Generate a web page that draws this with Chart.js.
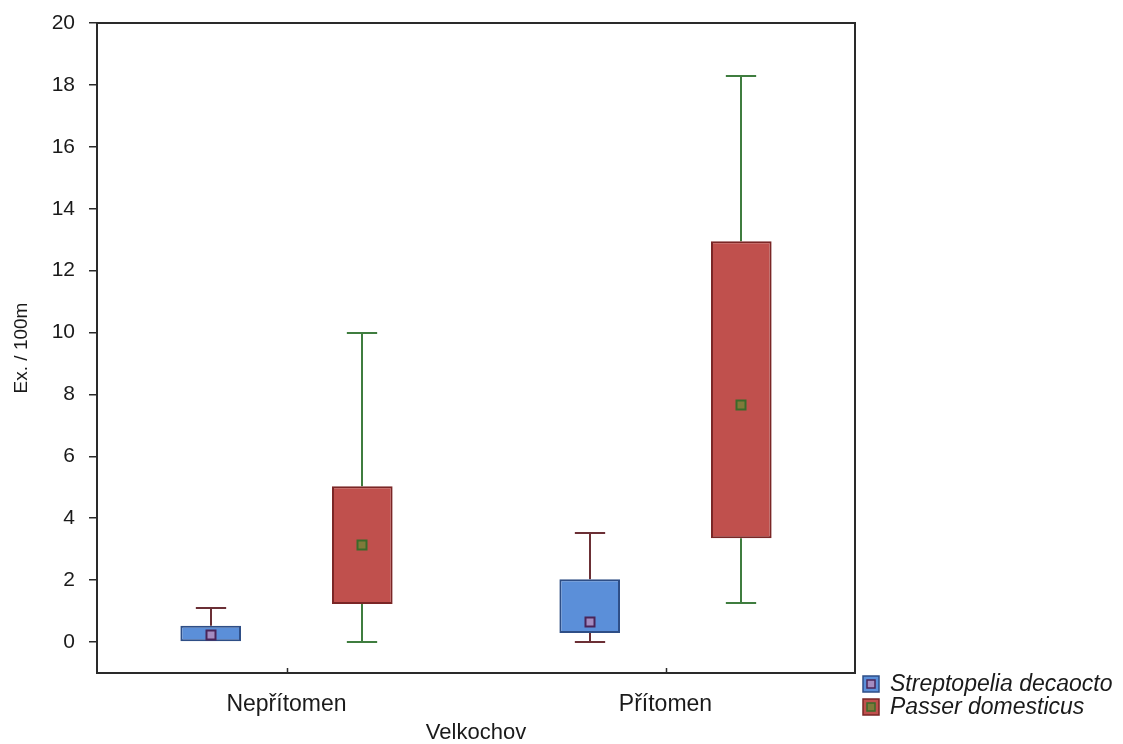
<!DOCTYPE html>
<html>
<head>
<meta charset="utf-8">
<script src="https://cdn.jsdelivr.net/npm/chart.js@4/dist/chart.umd.min.js"></script>
<style>
html,body{margin:0;padding:0;background:#fff;}
#wrap{width:1123px;height:744px;}
</style>
</head>
<body>
<div id="wrap"><canvas id="c" width="1123" height="744"></canvas></div>
<script>
const categories = ['Nepřítomen', 'Přítomen'];
const seriesNames = ['Streptopelia decaocto', 'Passer domesticus'];
const yTicks = [0, 2, 4, 6, 8, 10, 12, 14, 16, 18, 20];

// Streptopelia decaocto
const strepMin  = [0.00, 0.00];
const strepQ1   = [0.00, 0.29];
const strepQ3   = [0.53, 2.03];
const strepMax  = [1.10, 3.52];
const strepMean = [0.22, 0.65];

// Passer domesticus
const passMin  = [0.00, 1.25];
const passQ1   = [1.23, 3.35];
const passQ3   = [5.03, 12.95];
const passMax  = [10.00, 18.30];
const passMean = [3.13, 7.65];

const FONT = "'Liberation Sans', Arial, sans-serif";
const AXIS = '#2a2a2a';

const styles = [
  {fill:'#5B8FD9', border:'#2E4E86', whisker:'#6B2F35', meanFill:'#A48CC0', meanBorder:'#4A2458'},
  {fill:'#C0504D', border:'#7A2626', whisker:'#3F7D3F', meanFill:'#7F7A3A', meanBorder:'#3A6A2A'}
];
const stats = [
  {min:strepMin, q1:strepQ1, q3:strepQ3, max:strepMax, mean:strepMean},
  {min:passMin, q1:passQ1, q3:passQ3, max:passMax, mean:passMean}
];

const boxPlugin = {
  id: 'boxExtras',
  beforeDatasetsDraw(chart) {
    const ctx = chart.ctx, y = chart.scales.y;
    ctx.save();
    stats.forEach((s, di) => {
      const meta = chart.getDatasetMeta(di);
      meta.data.forEach((bar, i) => {
        const x = Math.round(bar.x), cap = bar.width * 0.5;
        ctx.strokeStyle = styles[di].whisker;
        ctx.lineWidth = 2;
        const segs = [[s.q3[i], s.max[i]], [s.min[i], s.q1[i]]];
        segs.forEach(([a, b]) => {
          if (b - a <= 0) return;
          ctx.beginPath();
          ctx.moveTo(x, y.getPixelForValue(a));
          ctx.lineTo(x, y.getPixelForValue(b));
          ctx.stroke();
        });
        [s.max[i], s.min[i]].forEach(v => {
          if (v === s.q1[i] || v === s.q3[i]) return;
          const py = Math.round(y.getPixelForValue(v));
          ctx.beginPath();
          ctx.moveTo(x - cap / 2, py);
          ctx.lineTo(x + cap / 2, py);
          ctx.stroke();
        });
      });
    });
    ctx.restore();
  },
  afterDatasetsDraw(chart) {
    const ctx = chart.ctx, y = chart.scales.y;
    ctx.save();
    stats.forEach((s, di) => {
      const meta = chart.getDatasetMeta(di);
      meta.data.forEach((bar, i) => {
        const px = Math.round(bar.x), py = Math.round(y.getPixelForValue(s.mean[i]));
        ctx.fillStyle = styles[di].meanFill;
        ctx.strokeStyle = styles[di].meanBorder;
        ctx.lineWidth = 2;
        ctx.fillRect(px - 4.5, py - 4.5, 9, 9);
        ctx.strokeRect(px - 4.5, py - 4.5, 9, 9);
      });
    });
    ctx.restore();
  },
  afterDraw(chart) {
    const ctx = chart.ctx, a = chart.chartArea, xs = chart.scales.x;
    ctx.save();
    ctx.strokeStyle = AXIS;
    ctx.lineWidth = 2;
    ctx.strokeRect(a.left, a.top, a.right - a.left, a.bottom - a.top);
    categories.forEach((c, i) => {
      const px = Math.round(xs.getPixelForValue(i)) + 0.5;
      ctx.lineWidth = 1.5;
      ctx.beginPath();
      ctx.moveTo(px, a.bottom);
      ctx.lineTo(px, a.bottom - 5);
      ctx.stroke();
    });
    // legend
    const lx = a.right + 8;
    const rows = [684, 707];
    seriesNames.forEach((name, i) => {
      const cy = rows[i];
      ctx.fillStyle = styles[i].fill;
      ctx.fillRect(lx, cy - 8, 16, 16);
      ctx.strokeStyle = styles[i].border;
      ctx.lineWidth = 1.5;
      ctx.strokeRect(lx, cy - 8, 16, 16);
      ctx.fillStyle = styles[i].meanFill;
      ctx.fillRect(lx + 4, cy - 4, 8, 8);
      ctx.strokeStyle = styles[i].meanBorder;
      ctx.strokeRect(lx + 4, cy - 4, 8, 8);
      ctx.fillStyle = '#1a1a1a';
      ctx.font = 'italic 23px ' + FONT;
      ctx.textBaseline = 'middle';
      ctx.textAlign = 'left';
      ctx.fillText(name, lx + 27, cy + 1);
    });
    ctx.restore();
  }
};

new Chart(document.getElementById('c'), {
  type: 'bar',
  data: {
    labels: categories,
    datasets: stats.map((s, di) => ({
      label: seriesNames[di],
      data: s.q1.map((v, i) => [v, s.q3[i]]),
      backgroundColor: styles[di].fill,
      borderColor: styles[di].border,
      borderWidth: 2,
      borderSkipped: false,
      categoryPercentage: 0.8,
      barPercentage: 0.4
    }))
  },
  options: {
    responsive: false,
    devicePixelRatio: 1,
    animation: false,
    layout: {padding: {top: 23, right: 268, left: 0, bottom: 0}},
    plugins: {legend: {display: false}, tooltip: {enabled: false}},
    scales: {
      x: {
        grid: {display: false},
        border: {display: true, color: AXIS, width: 2},
        ticks: {color: '#1a1a1a', font: {family: FONT, size: 23}, padding: 10, maxRotation: 0},
        title: {display: true, text: 'Velkochov', color: '#1a1a1a', font: {family: FONT, size: 22, lineHeight: 1}, padding: 0},
        afterFit(s) { s.height = 71; s.paddingLeft = 0; s.paddingRight = 0; }
      },
      y: {
        min: -1, max: 20,
        afterBuildTicks(s) { s.ticks = yTicks.map(v => ({value: v})); },
        grid: {drawOnChartArea: false, drawTicks: true, tickLength: 8, color: AXIS, lineWidth: 1.5},
        border: {display: true, color: AXIS, width: 2},
        ticks: {color: '#1a1a1a', font: {family: FONT, size: 21}, padding: 14},
        title: {display: true, text: 'Ex. / 100m', color: '#1a1a1a', font: {family: FONT, size: 19, lineHeight: 1}, padding: 12},
        afterFit(s) { s.width = 97; s.paddingTop = 0; s.paddingBottom = 0; }
      }
    }
  },
  plugins: [boxPlugin]
});
</script>
</body>
</html>
